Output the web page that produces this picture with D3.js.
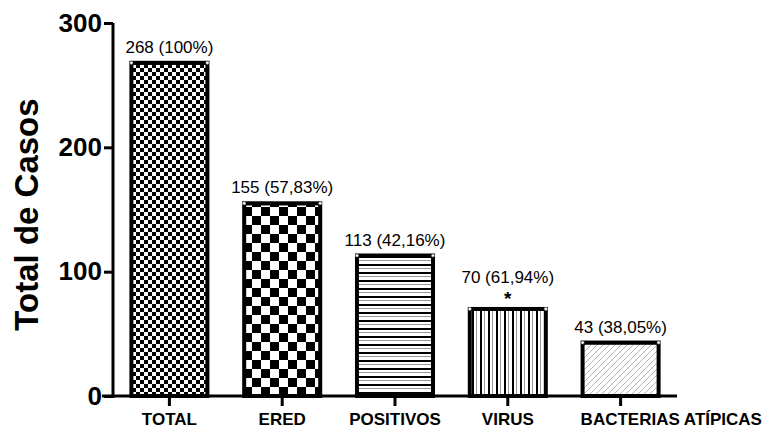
<!DOCTYPE html>
<html>
<head>
<meta charset="utf-8">
<script src="https://cdn.jsdelivr.net/npm/d3@7"></script>
<style>
  html, body { margin: 0; padding: 0; background: #fff; }
  svg { display: block; }
  text { font-family: "Liberation Sans", Arial, sans-serif; }
</style>
</head>
<body>
<svg id="chart" width="772" height="430"></svg>
<script>
const categories = ["TOTAL", "ERED", "POSITIVOS", "VIRUS", "BACTERIAS ATÍPICAS"];
const values = [268, 155, 113, 70, 43];
const valueLabels = ["268 (100%)", "155 (57,83%)", "113 (42,16%)", "70 (61,94%)", "43 (38,05%)"];
const significance = ["", "", "", "*", ""];
const patterns = ["checkFine", "checkCoarse", "hLines", "vLines", "diagHatch"];
const yTicks = [0, 100, 200, 300];
const yTitle = "Total de Casos";

const svg = d3.select("#chart");
const W = 772, H = 430;
svg.append("rect").attr("width", W).attr("height", H).attr("fill", "#fff");

const defs = svg.append("defs");
// fine checkerboard
let p = defs.append("pattern").attr("id", "checkFine").attr("patternUnits", "userSpaceOnUse")
  .attr("width", 8).attr("height", 8);
p.append("rect").attr("width", 8).attr("height", 8).attr("fill", "#fff");
p.append("rect").attr("width", 4).attr("height", 4).attr("fill", "#000");
p.append("rect").attr("x", 4).attr("y", 4).attr("width", 4).attr("height", 4).attr("fill", "#000");
// coarse checkerboard
p = defs.append("pattern").attr("id", "checkCoarse").attr("patternUnits", "userSpaceOnUse")
  .attr("width", 18).attr("height", 18);
p.append("rect").attr("width", 18).attr("height", 18).attr("fill", "#fff");
p.append("rect").attr("width", 9).attr("height", 9).attr("fill", "#000");
p.append("rect").attr("x", 9).attr("y", 9).attr("width", 9).attr("height", 9).attr("fill", "#000");
// horizontal lines
p = defs.append("pattern").attr("id", "hLines").attr("patternUnits", "userSpaceOnUse")
  .attr("width", 8).attr("height", 8);
p.append("rect").attr("width", 8).attr("height", 8).attr("fill", "#fff");
p.append("rect").attr("y", 0).attr("width", 8).attr("height", 2).attr("fill", "#000");
p.append("rect").attr("y", 4).attr("width", 8).attr("height", 1).attr("fill", "#999");
// vertical lines
p = defs.append("pattern").attr("id", "vLines").attr("patternUnits", "userSpaceOnUse")
  .attr("width", 8).attr("height", 8);
p.append("rect").attr("width", 8).attr("height", 8).attr("fill", "#fff");
p.append("rect").attr("x", 0).attr("width", 2).attr("height", 8).attr("fill", "#000");
p.append("rect").attr("x", 4).attr("width", 1).attr("height", 8).attr("fill", "#999");
// diagonal hatch
p = defs.append("pattern").attr("id", "diagHatch").attr("patternUnits", "userSpaceOnUse")
  .attr("width", 6).attr("height", 6);
p.append("rect").attr("width", 6).attr("height", 6).attr("fill", "#fff");
p.append("path").attr("d", "M-1,1 l2,-2 M0,6 l6,-6 M5,7 l2,-2")
  .attr("stroke", "#aaa").attr("stroke-width", 0.9);

const x = d3.scaleBand().domain(categories).range([113, 677])
  .paddingInner(0.326).paddingOuter(0.163);
const y = d3.scaleLinear().domain([0, 300]).range([396, 23]);

// bars
const g = svg.append("g");
categories.forEach((c, i) => {
  g.append("rect")
    .attr("x", x(c)).attr("y", y(values[i]))
    .attr("width", x.bandwidth()).attr("height", y(0) - y(values[i]))
    .attr("fill", `url(#${patterns[i]})`)
    .attr("stroke", "#000").attr("stroke-width", 4);
  g.append("line")
    .attr("x1", x(c)).attr("x2", x(c) + x.bandwidth())
    .attr("y1", y(values[i]) + 1).attr("y2", y(values[i]) + 1)
    .attr("stroke", "#000").attr("stroke-width", 2);
  [x(c), x(c) + x.bandwidth()].forEach(cx => {
    g.append("circle").attr("cx", cx).attr("cy", y(values[i]))
      .attr("r", 1.6).attr("fill", "#fff").attr("stroke", "#666").attr("stroke-width", 0.5);
  });
});

// value labels
categories.forEach((c, i) => {
  const cx = x(c) + x.bandwidth() / 2;
  const hasSig = significance[i] !== "";
  svg.append("text")
    .attr("x", cx).attr("y", y(values[i]) - (hasSig ? 26 : 10))
    .attr("text-anchor", "middle")
    .attr("font-size", 17)
    .attr("fill", "#000")
    .text(valueLabels[i]);
  if (hasSig) {
    svg.append("text")
      .attr("x", cx).attr("y", y(values[i]) - 4)
      .attr("text-anchor", "middle")
      .attr("font-size", 19)
      .attr("font-weight", "bold")
      .text(significance[i]);
  }
});

// y axis
const yAxis = svg.append("g").attr("transform", "translate(113,0)")
  .call(d3.axisLeft(y).tickValues(yTicks).tickSize(9).tickSizeOuter(0).tickPadding(2));
yAxis.select(".domain").attr("stroke", "#000").attr("stroke-width", 3)
  .attr("d", `M0,${y(300)}V${y(0) + 2}`);
yAxis.selectAll(".tick line").attr("stroke", "#000").attr("stroke-width", 3);
yAxis.selectAll(".tick text").attr("font-size", 26).attr("font-weight", "bold")
  .attr("fill", "#000").attr("font-family", "Liberation Sans, Arial, sans-serif");

// x axis
const xAxis = svg.append("g").attr("transform", `translate(0,${y(0)})`)
  .call(d3.axisBottom(x).tickSize(10).tickSizeOuter(0).tickPadding(7));
xAxis.select(".domain").attr("stroke", "#000").attr("stroke-width", 3)
  .attr("d", `M102,0H${x.range()[1]}`);
xAxis.selectAll(".tick line").attr("stroke", "#000").attr("stroke-width", 3);
xAxis.selectAll(".tick text").attr("font-size", 17).attr("font-weight", "bold")
  .attr("fill", "#000").attr("font-family", "Liberation Sans, Arial, sans-serif");
// last label sits to the right of its tick in the reference
xAxis.selectAll(".tick text").filter(d => d === categories[categories.length - 1])
  .attr("text-anchor", "start").attr("x", -(x.bandwidth() / 2) - 2);

// y title
svg.append("text")
  .attr("transform", `translate(38,${(y(0) + y(300)) / 2 + 5}) rotate(-90)`)
  .attr("text-anchor", "middle")
  .attr("font-size", 33).attr("font-weight", "bold")
  .text(yTitle);
</script>
</body>
</html>
